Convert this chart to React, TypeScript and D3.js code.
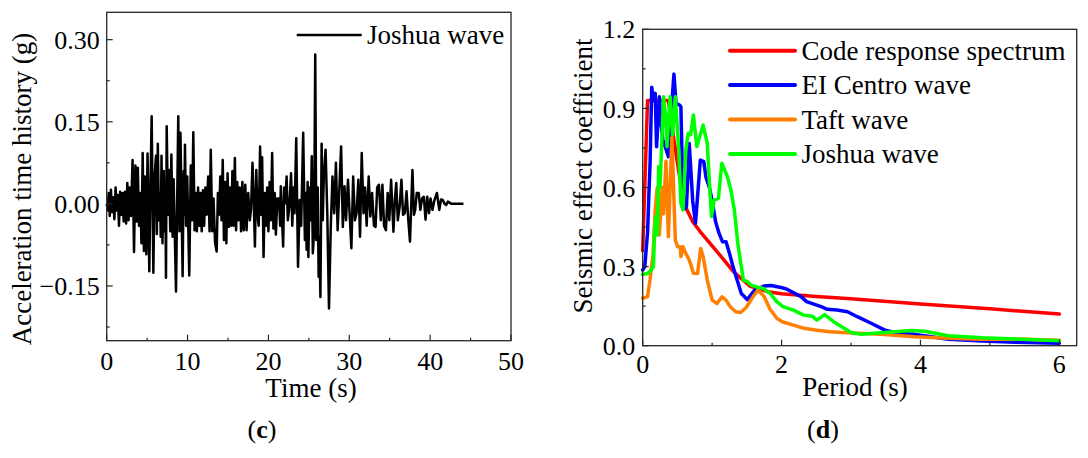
import * as d3 from 'd3';

// (c) Joshua wave acceleration time history
const joshuaTimeS = [
  0, 0.12, 0.25, 0.38, 0.52, 0.66, 0.8, 0.95, 1.1, 1.24, 1.38, 1.52, 1.66, 1.8, 1.95, 2.1, 2.25, 2.4, 2.55, 2.7,
  2.85, 3.0, 3.2, 3.38, 3.55, 3.7, 3.85, 4.0, 4.15, 4.3, 4.45, 4.6, 4.75, 4.9, 5.05, 5.27, 5.42, 5.56, 5.77, 5.92,
  6.1, 6.2, 6.32, 6.46, 6.6, 6.68, 6.78, 6.9, 7.05, 7.18, 7.26, 7.33, 7.42, 7.58, 7.72, 7.86, 8.0, 8.15, 8.28, 8.57,
  8.85, 9.0, 9.12, 9.39, 9.52, 9.6, 9.68, 9.82, 9.96, 10.21, 10.4, 10.55, 10.71, 10.87, 11.0, 11.15, 11.3, 11.45, 11.6, 11.75,
  11.9, 12.05, 12.2, 12.36, 12.55, 12.72, 12.87, 13.05, 13.21, 13.4, 13.6, 13.75, 13.9, 14.05, 14.2, 14.35, 14.5, 14.65, 14.8, 14.95,
  15.1, 15.25, 15.4, 15.55, 15.7, 15.85, 16.0, 16.15, 16.3, 16.45, 16.62, 16.78, 16.95, 17.14, 17.3, 17.5, 17.7, 17.85, 18.03, 18.18,
  18.33, 18.5, 18.65, 18.8, 18.97, 19.1, 19.22, 19.4, 19.55, 19.7, 19.85, 20.0, 20.15, 20.3, 20.46, 20.62, 20.78, 20.92, 21.1, 21.31,
  21.45, 21.53, 21.82, 21.95, 22.08, 22.25, 22.4, 22.59, 22.8, 22.95, 23.1, 23.23, 23.44, 23.66, 23.87, 24.05, 24.3, 24.51, 24.65, 24.72,
  24.85, 24.94, 25.1, 25.22, 25.36, 25.49, 25.65, 25.79, 25.92, 26.1, 26.21, 26.3, 26.43, 26.58, 26.72, 26.85, 27.07, 27.28, 27.49, 27.71,
  27.92, 28.13, 28.35, 28.56, 28.75, 28.99, 29.2, 29.41, 29.6, 29.84, 30.05, 30.26, 30.48, 30.7, 30.9, 31.12, 31.33, 31.54, 31.76, 31.95,
  32.15, 32.4, 32.61, 32.82, 33.05, 33.25, 33.45, 33.67, 33.9, 34.1, 34.3, 34.53, 34.75, 34.95, 35.17, 35.46, 35.65, 35.81, 36.0, 36.23,
  36.45, 36.65, 36.87, 37.08, 37.3, 37.51, 37.81, 38.0, 38.15, 38.35, 38.58, 38.79, 39.0, 39.22, 39.43, 39.64, 39.86, 40.05, 40.28, 40.5,
  40.84, 41.13, 41.35, 41.56, 41.8, 41.99, 42.2, 42.63, 44.12,
];
const joshuaAccelG = [
  0, -0.012, 0.02, -0.022, 0.026, -0.015, 0.012, -0.028, 0.03, -0.012, 0.016, -0.04, 0.022, -0.02, 0.02, -0.032, 0.022, -0.036, 0.038, -0.03,
  0.03, -0.022, 0.08, -0.088, 0.07, -0.032, 0.066, -0.04, 0.02, -0.072, 0.093, -0.086, 0.05, -0.092, 0.092, -0.123, 0.04, 0.16, -0.126, 0.05,
  0.088, -0.055, 0.11, -0.03, 0.02, -0.06, 0.088, -0.072, 0.06, -0.05, 0.03, -0.135, 0.142, -0.02, 0.062, -0.05, 0.09, -0.06, 0.045, -0.16,
  0.16, -0.05, 0.13, -0.132, 0.06, -0.02, 0.108, -0.04, 0.05, -0.131, 0.07, -0.03, 0.131, -0.048, 0.02, -0.05, 0.03, -0.04, 0.02, -0.05,
  0.025, -0.04, 0.03, -0.02, 0.05, -0.05, 0.099, -0.05, 0.01, -0.07, -0.087, 0.02, -0.02, 0.05, -0.03, 0.08, -0.066, 0.04, -0.072, 0.056,
  -0.042, 0.03, -0.04, 0.06, -0.04, 0.084, -0.048, 0.04, -0.03, 0.03, -0.05, 0.04, -0.048, 0.035, -0.048, 0.02, -0.03, -0.01, 0.075, 0.01,
  -0.078, 0.062, -0.02, -0.04, 0.105, -0.02, 0.085, -0.097, 0.02, -0.04, 0.03, -0.05, 0.04, -0.03, 0.093, -0.045, 0.02, -0.056, 0.01, 0.01,
  -0.04, 0.032, -0.078, 0.03, 0.001, 0.05, -0.03, -0.005, 0.056, -0.04, 0.03, -0.017, 0.12, -0.115, 0.007, -0.04, 0.13, -0.066, 0.02, -0.084,
  0.04, -0.097, 0.03, -0.03, 0.087, -0.09, -0.05, 0.273, -0.066, 0.03, -0.133, -0.06, -0.17, 0.11, -0.03, 0.05, 0.099, -0.017, -0.191, -0.042,
  0.05, -0.017, 0.075, -0.048, 0.02, 0.105, -0.042, 0.032, -0.03, 0.044, -0.02, -0.081, 0.05, -0.03, -0.017, 0.044, -0.06, 0.093, -0.017, 0.03,
  -0.04, 0.05, -0.023, 0.02, -0.04, -0.042, 0.03, 0.035, -0.03, 0.035, -0.04, -0.048, 0.02, -0.03, 0.044, -0.051, 0.01, 0.038, -0.03, -0.005,
  0.044, -0.02, -0.017, 0.023, -0.03, -0.069, 0.062, -0.02, -0.011, 0.02, 0.02, -0.011, 0.01, 0.013, -0.029, 0.013, -0.017, 0.01, -0.011, 0.005,
  0.02, -0.011, 0.008, 0.007, 0, -0.002, 0.004, 0, 0,
];

// (d) response spectra
const codeT = [0, 0.07, 0.37, 0.45, 0.52, 0.61, 0.72, 0.83, 1.07, 1.31, 1.55, 1.8, 2.0, 2.5, 3.0, 4.0, 5.0, 6.0];
const codeA = [0.36, 0.93, 0.93, 0.78, 0.66, 0.53, 0.47, 0.432, 0.357, 0.28, 0.225, 0.205, 0.197, 0.187, 0.178, 0.158, 0.14, 0.12];

const elCentroT = [
  0, 0.03, 0.07, 0.09, 0.106, 0.13, 0.155, 0.18, 0.2, 0.24, 0.265, 0.29, 0.33, 0.37, 0.405, 0.45, 0.48, 0.53, 0.55, 0.58,
  0.61, 0.63, 0.67, 0.72, 0.76, 0.8, 0.83, 0.88, 0.91, 0.96, 1.0, 1.05, 1.1, 1.15, 1.2, 1.25, 1.3, 1.36, 1.42, 1.505,
  1.61, 1.745, 1.85, 1.99, 2.07, 2.28, 2.36, 2.57, 2.66, 2.8, 2.95, 3.09, 3.29, 3.48, 3.67, 3.92, 4.16, 4.4, 4.89, 5.37, 6.0,
];
const elCentroA = [
  0.287, 0.3, 0.43, 0.58, 0.69, 0.98, 0.93, 0.957, 0.755, 0.944, 0.843, 0.78, 0.75, 0.717, 0.868, 1.03, 0.919, 0.913, 0.906, 0.55,
  0.52, 0.527, 0.767, 0.55, 0.464, 0.6, 0.704, 0.698, 0.64, 0.6, 0.55, 0.47, 0.426, 0.394, 0.394, 0.35, 0.3, 0.249, 0.198, 0.175,
  0.21, 0.226, 0.228, 0.221, 0.215, 0.186, 0.167, 0.148, 0.138, 0.135, 0.129, 0.11, 0.085, 0.06, 0.047, 0.043, 0.034, 0.024, 0.018, 0.013, 0.009,
];

const taftT = [
  0, 0.07, 0.105, 0.15, 0.18, 0.21, 0.24, 0.28, 0.3, 0.335, 0.37, 0.42, 0.47, 0.505, 0.54, 0.55, 0.58, 0.62, 0.66, 0.69,
  0.73, 0.79, 0.835, 0.87, 0.93, 1.0, 1.07, 1.14, 1.2, 1.26, 1.34, 1.41, 1.49, 1.59, 1.66, 1.75, 1.83, 1.93, 2.01, 2.17,
  2.32, 2.51, 2.7, 2.95, 3.43, 3.92, 4.4, 4.89, 5.37, 6.0,
];
const taftA = [
  0.18, 0.186, 0.25, 0.35, 0.515, 0.6, 0.42, 0.6, 0.5, 0.7, 0.413, 0.79, 0.4, 0.375, 0.375, 0.338, 0.375, 0.35, 0.331, 0.31,
  0.275, 0.274, 0.369, 0.338, 0.249, 0.173, 0.16, 0.185, 0.173, 0.148, 0.129, 0.126, 0.145, 0.186, 0.211, 0.186, 0.14, 0.104, 0.091, 0.078,
  0.066, 0.059, 0.053, 0.049, 0.043, 0.034, 0.028, 0.024, 0.025, 0.021,
];

const joshuaT = [
  0, 0.08, 0.13, 0.155, 0.17, 0.19, 0.21, 0.23, 0.25, 0.3, 0.33, 0.35, 0.395, 0.43, 0.47, 0.52, 0.55, 0.58, 0.62, 0.655,
  0.69, 0.73, 0.78, 0.87, 0.93, 0.96, 0.99, 1.03, 1.09, 1.14, 1.22, 1.27, 1.32, 1.37, 1.42, 1.45, 1.51, 1.56, 1.65, 1.73,
  1.83, 1.93, 2.02, 2.17, 2.32, 2.44, 2.51, 2.62, 2.75, 2.9, 3.0, 3.14, 3.38, 3.58, 3.87, 4.06, 4.4, 4.89, 5.37, 6.0,
];
const joshuaA = [
  0.27, 0.275, 0.29, 0.3, 0.43, 0.49, 0.42, 0.68, 0.6, 0.944, 0.87, 0.755, 0.944, 0.8, 0.944, 0.74, 0.54, 0.515, 0.74, 0.805,
  0.8, 0.875, 0.755, 0.837, 0.767, 0.62, 0.49, 0.552, 0.559, 0.692, 0.641, 0.59, 0.515, 0.388, 0.3, 0.249, 0.243, 0.23, 0.222, 0.218,
  0.2, 0.167, 0.148, 0.135, 0.116, 0.112, 0.097, 0.118, 0.091, 0.066, 0.05, 0.043, 0.048, 0.052, 0.058, 0.055, 0.038, 0.03, 0.025, 0.019,
];

const spectra = [
  { name: 'Code response spectrum', color: '#ff0000', t: codeT, a: codeA },
  { name: 'EI Centro wave', color: '#0000ff', t: elCentroT, a: elCentroA },
  { name: 'Taft wave', color: '#ff8000', t: taftT, a: taftA },
  { name: 'Joshua wave', color: '#00ff00', t: joshuaT, a: joshuaA },
];

const timeTicks = [0, 10, 20, 30, 40, 50];
const timeMinor = [5, 15, 25, 35, 45];
const accelTicks = [-0.15, 0, 0.15, 0.3];
const accelMinor = [-0.225, -0.075, 0.075, 0.225];
const periodTicks = [0, 2, 4, 6];
const periodMinor = [1, 3, 5];
const coefTicks = [0, 0.3, 0.6, 0.9, 1.2];
const coefMinor = [0.15, 0.45, 0.75, 1.05];

const FONT = "'Times New Roman', 'Liberation Serif', serif";
const FRAME = '#262626';

export default function App() {
  // left panel scales
  const xL = d3.scaleLinear().domain([0, 50]).range([106.7, 511]);
  const yL = d3.scaleLinear().domain([-0.25, 0.35]).range([340.7, 12.3]);
  // right panel scales
  const xR = d3.scaleLinear().domain([0, 6.25]).range([642.7, 1076.7]);
  const yR = d3.scaleLinear().domain([0, 1.2]).range([345.7, 29.3]);

  const waveLine = d3
    .line<number>()
    .x((_, i) => xL(joshuaTimeS[i]))
    .y(d => yL(d));

  const fmt2 = d3.format('.2f');
  const fmt1 = d3.format('.1f');

  const axisFrame = (x: d3.ScaleLinear<number, number>, y: d3.ScaleLinear<number, number>) => {
    const [x0, x1] = x.range();
    const [y0, y1] = y.range();
    return (
      <rect x={x0} y={y1} width={x1 - x0} height={y0 - y1} fill="none" stroke={FRAME} strokeWidth={1.3} />
    );
  };

  return (
    <svg
      width={1088}
      height={458}
      style={{ position: 'absolute', left: 0, top: 0, background: '#fff' }}
      fontFamily={FONT}
    >
      {/* ---------- (c) ---------- */}
      <path d={waveLine(joshuaAccelG) || ''} fill="none" stroke="#000" strokeWidth={2.5} strokeLinejoin="round" />
      {axisFrame(xL, yL)}
      <g stroke={FRAME} strokeWidth={1.2}>
        {timeTicks.map(t => (
          <line key={'lx' + t} x1={xL(t)} x2={xL(t)} y1={yL(-0.25)} y2={yL(-0.25) - 6} />
        ))}
        {timeMinor.map(t => (
          <line key={'lxm' + t} x1={xL(t)} x2={xL(t)} y1={yL(-0.25)} y2={yL(-0.25) - 3} />
        ))}
        {accelTicks.map(v => (
          <line key={'ly' + v} x1={xL(0)} x2={xL(0) + 6} y1={yL(v)} y2={yL(v)} />
        ))}
        {accelMinor.map(v => (
          <line key={'lym' + v} x1={xL(0)} x2={xL(0) + 3} y1={yL(v)} y2={yL(v)} />
        ))}
      </g>
      <g fontSize={26} fill="#000">
        {timeTicks.map(t => (
          <text key={'lxt' + t} x={xL(t)} y={370} textAnchor="middle">
            {t}
          </text>
        ))}
        {accelTicks.map(v => (
          <text key={'lyt' + v} x={xL(0) - 7} y={yL(v)} dy="0.35em" textAnchor="end">
            {fmt2(v)}
          </text>
        ))}
      </g>
      <text x={311} y={397} fontSize={27} textAnchor="middle">
        Time (s)
      </text>
      <text transform="translate(31,189) rotate(-90)" fontSize={27} textAnchor="middle">
        Acceleration time history (g)
      </text>
      <line x1={296.7} x2={361.7} y1={35} y2={35} stroke="#000" strokeWidth={2.4} />
      <text x={367} y={43.5} fontSize={27}>
        Joshua wave
      </text>
      <text x={262} y={438} fontSize={26} textAnchor="middle">
        (<tspan fontWeight="bold">c</tspan>)
      </text>

      {/* ---------- (d) ---------- */}
      {spectra.map(s => {
        const line = d3
          .line<number>()
          .x((_, i) => xR(s.t[i]))
          .y(d => yR(d));
        return (
          <path
            key={s.name}
            d={line(s.a) || ''}
            fill="none"
            stroke={s.color}
            strokeWidth={3.5}
            strokeLinejoin="round"
            strokeLinecap="round"
          />
        );
      })}
      {axisFrame(xR, yR)}
      <g stroke={FRAME} strokeWidth={1.2}>
        {periodTicks.map(t => (
          <line key={'rx' + t} x1={xR(t)} x2={xR(t)} y1={yR(0)} y2={yR(0) - 6} />
        ))}
        {periodMinor.map(t => (
          <line key={'rxm' + t} x1={xR(t)} x2={xR(t)} y1={yR(0)} y2={yR(0) - 3} />
        ))}
        {coefTicks.map(v => (
          <line key={'ry' + v} x1={xR(0)} x2={xR(0) + 6} y1={yR(v)} y2={yR(v)} />
        ))}
        {coefMinor.map(v => (
          <line key={'rym' + v} x1={xR(0)} x2={xR(0) + 3} y1={yR(v)} y2={yR(v)} />
        ))}
      </g>
      <g fontSize={26} fill="#000">
        {periodTicks.map(t => (
          <text key={'rxt' + t} x={xR(t)} y={373} textAnchor="middle">
            {t}
          </text>
        ))}
        {coefTicks.map(v => (
          <text key={'ryt' + v} x={xR(0) - 7.5} y={yR(v)} dy="0.35em" textAnchor="end">
            {fmt1(v)}
          </text>
        ))}
      </g>
      <text x={855} y={396} fontSize={27} textAnchor="middle">
        Period (s)
      </text>
      <text transform="translate(592,176) rotate(-90)" fontSize={27} textAnchor="middle">
        Seismic effect coefficient
      </text>
      {spectra.map((s, i) => (
        <g key={'leg' + s.name}>
          <line x1={730} x2={795} y1={50.7 + i * 34.4} y2={50.7 + i * 34.4} stroke={s.color} strokeWidth={4} strokeLinecap="round" />
          <text x={801.5} y={60 + i * 34.4} fontSize={27}>
            {s.name}
          </text>
        </g>
      ))}
      <text x={823} y={438} fontSize={26} textAnchor="middle">
        (<tspan fontWeight="bold">d</tspan>)
      </text>
    </svg>
  );
}
